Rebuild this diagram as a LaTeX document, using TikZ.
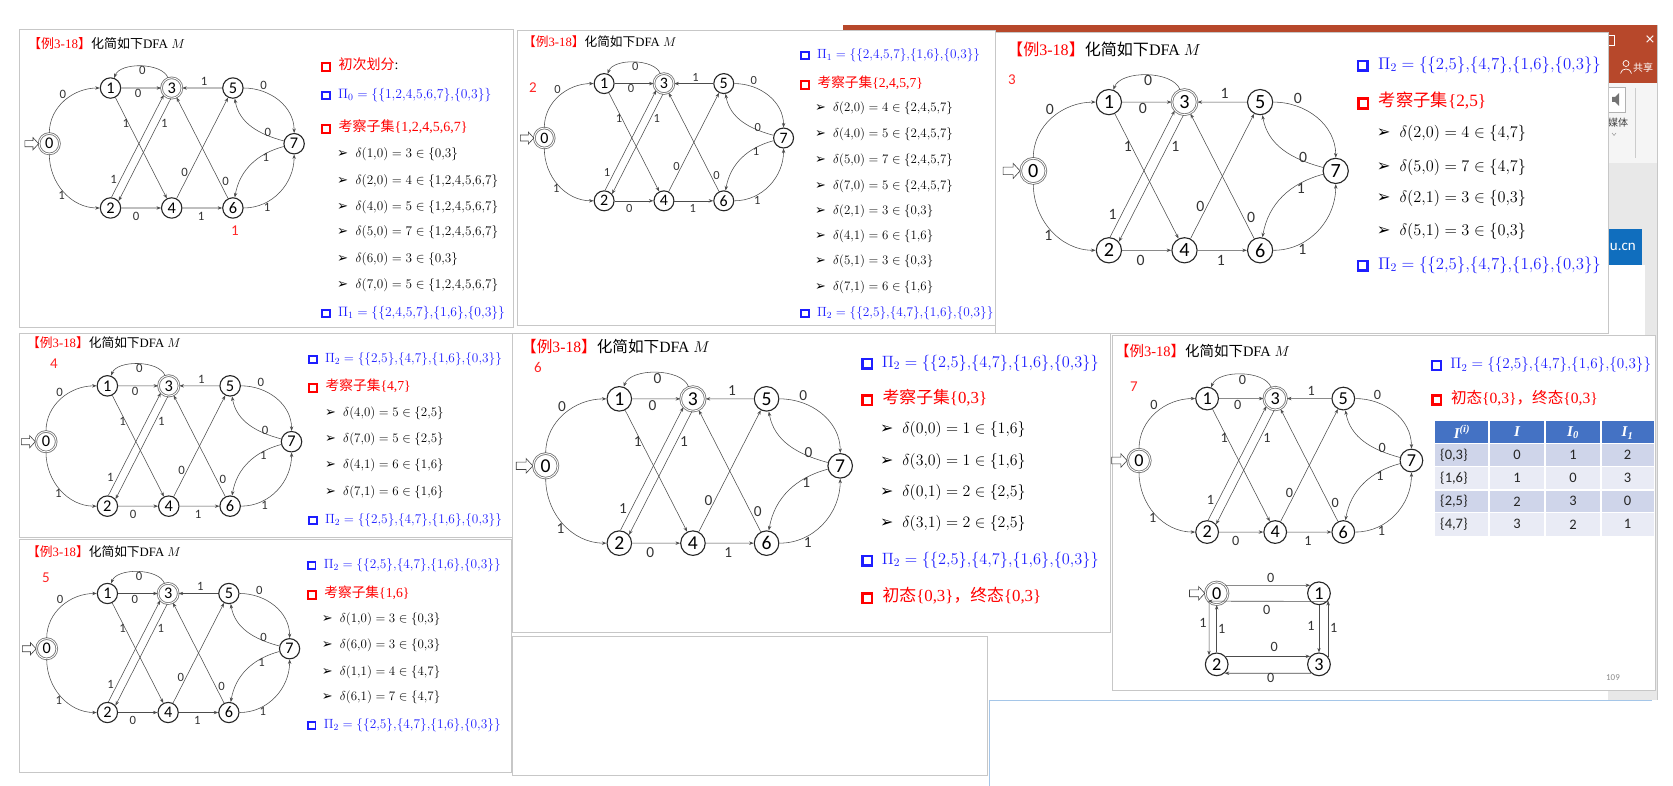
\documentclass[tikz,border=0pt]{standalone}
\usepackage{fix-cm}
\usepackage{fontspec}
\usepackage{graphicx}
\setmainfont{Liberation Serif}
\newfontfamily\cjk{Noto Sans CJK SC}
\newfontfamily\calib{Carlito}
\newfontfamily\symf{DejaVu Sans}
\usetikzlibrary{arrows.meta}

\definecolor{rd}{RGB}{255,0,0}
\definecolor{bl}{RGB}{30,30,255}
\definecolor{hdr}{RGB}{68,114,196}
\definecolor{rowa}{RGB}{207,213,234}
\definecolor{rowb}{RGB}{233,235,245}
\definecolor{ppt}{RGB}{183,72,43}
\definecolor{msblue}{RGB}{16,110,190}
\definecolor{lnblue}{RGB}{165,198,232}

\AtBeginDocument{\mathcode`\,="013B }

\newcommand\sqb[1]{{\color{#1}\setlength\fboxsep{0pt}\setlength\fboxrule{0.15em}\fbox{\rule{0pt}{0.42em}\hspace{0.42em}}}\hspace{0.55em}}
\newcommand\bularr{\scalebox{1.0}{\symf ➢}\hspace{0.55em}}
\newcommand\dline[4]{\bularr$\delta(#1,#2) = #3 \in \{#4\}$}
\newcommand\piline[2]{\sqb{bl}\textcolor{bl}{$\Pi_{#1} = \{#2\}$}}
\newcommand\kcset[1]{\sqb{rd}\textcolor{rd}{{\cjk 考察子集}\{#1\}}}
\newcommand\pitwo{\{2,5\},\{4,7\},\{1,6\},\{0,3\}}
\newcommand\initfin{\sqb{rd}\textcolor{rd}{{\cjk 初态}\{0,3\}{\cjk ，终态}\{0,3\}}}
\newcommand\ttltext{{\color{rd}{\cjk 【例}3-18{\cjk 】}}{\cjk 化简如下}DFA $M$}

\tikzset{
  st/.style={circle, draw=black!85, line width=1.1pt, minimum size=20pt, inner sep=0pt,
    font=\calib\fontsize{16}{16}\selectfont},
  fst/.style={st, draw=black!55, double=white, double distance=0.9pt, line width=0.8pt},
  ed/.style={draw=black!70, line width=0.55pt, -{Stealth[length=4.5pt,width=3.4pt]}},
  lbl/.style={inner sep=0pt, text=black!80, font=\calib\fontsize{12.5}{12.5}\selectfont},
  startarr/.style={draw=black!75, line width=0.6pt, fill=white},
  pnl/.style={draw=black!22, fill=white, line width=0.8pt},
  ttl/.style={anchor=west, inner sep=0pt, font=\fontsize{\fpeval{13*#1}}{\fpeval{15*#1}}\selectfont},
  sqln/.style={anchor=west, inner sep=0pt, font=\fontsize{\fpeval{14*#1}}{\fpeval{16*#1}}\selectfont},
  piln/.style={anchor=west, inner sep=0pt, font=\fontsize{\fpeval{13.6*#1}}{\fpeval{16*#1}}\selectfont},
  dln/.style={anchor=west, inner sep=0pt, font=\fontsize{\fpeval{13.2*#1}}{\fpeval{15*#1}}\selectfont},
  pno/.style={inner sep=0pt, text=rd!85, font=\calib\fontsize{15}{15}\selectfont},
  hd/.style={inner sep=0pt, text=white, font=\bfseries\itshape\fontsize{15}{15}\selectfont},
  tb/.style={inner sep=0pt, text=black!85, font=\calib\fontsize{14.5}{14.5}\selectfont},
}

% the DFA M, local units: 60pt between columns, y up
\newcommand\dfagraph[1]{%
  \node[fst] (#1q0) at (0,4.2) {0};
  \node[st] (#1q1) at (60,58.8) {1};
  \node[fst] (#1q3) at (120,58.8) {3};
  \node[st] (#1q5) at (180,58.8) {5};
  \node[st] (#1q7) at (240,4.2) {7};
  \node[st] (#1q2) at (60,-58.8) {2};
  \node[st] (#1q4) at (120,-58.8) {4};
  \node[st] (#1q6) at (180,-58.8) {6};
  \draw[startarr] (-24,7.2) -- (-16,7.2) -- (-16,10.2) -- (-10.5,4.2) -- (-16,-1.8)
    -- (-16,1.2) -- (-24,1.2) -- cycle;
  \draw[ed] (#1q0) to[out=90,in=180] (#1q1);
  \draw[ed] (#1q0) to[out=-90,in=180] (#1q2);
  \draw[ed] (#1q1) -- (#1q3);
  \draw[ed] (#1q3) to[out=110,in=70,looseness=0.8] (#1q1);
  \draw[ed] (#1q1) -- (#1q4);
  \draw[ed] (#1q2.85) -- (#1q3.221);
  \draw[ed] (#1q3.265) -- (#1q2.41);
  \draw[ed] (#1q2) -- (#1q4);
  \draw[ed] (#1q4) -- (#1q5);
  \draw[ed] (#1q4) -- (#1q6);
  \draw[ed] (#1q5) -- (#1q3);
  \draw[ed] (#1q6) -- (#1q3);
  \draw[ed] (#1q5) to[out=0,in=90] (#1q7);
  \draw[ed] (#1q6) to[out=0,in=-90] (#1q7);
  \draw[ed] (#1q7) to[out=165,in=-80] (#1q5);
  \draw[ed] (#1q7) to[out=195,in=80] (#1q6);
  \foreach \lx/\ly/\lt/\ln in {13.2/52.8/0/01, 12/-46.8/1/02, 91.2/75.6/0/31, 87/53.4/0/13,
      75/24/1/14, 112.8/24/1/32, 63/-30.6/1/23, 85.2/-66.6/0/24, 148.8/-66.6/1/46,
      151.8/65.4/1/53, 132.6/-24/0/45, 172.8/-33/0/63, 210/61.8/0/57, 214.2/15/0/75,
      212.4/-9.6/1/76, 213.6/-58.2/1/67}
    \node[lbl] (#1l\ln) at (\lx,\ly) {\lt};
}

\begin{document}
\begin{tikzpicture}[x=1pt, y=-1pt]
\useasboundingbox (0,0) rectangle (1673,786);
\fill[white] (0,0) rectangle (1673,786);

% window behind the slides
\fill[ppt] (843,25) rectangle (1657,83);
\draw[white, line width=0.7pt] (1604,35) rectangle (1614,45);
\node[text=white, font=\symf\fontsize{13}{13}\selectfont] (wclose) at (1650,40) {×};
\draw[white, line width=0.7pt] (1626,63.5) circle (3);
\draw[white, line width=0.7pt] (1620.5,73.5) .. controls (1621,67.5) and (1631,67.5) .. (1631.5,73.5);
\node[anchor=west, inner sep=0pt, text=white, font=\cjk\fontsize{10}{10}\selectfont] (share) at (1633,68) {共享};
\fill[black!4] (1608,83) rectangle (1657,163);
\draw[black!20] (1635,88) -- (1635,158);
\draw[black!30, fill=white] (1605,87) rectangle (1625,112);
\fill[black!55] (1612,97) -- (1615,97) -- (1619,93) -- (1619,106) -- (1615,102) -- (1612,102) -- cycle;
\node[inner sep=0pt, text=black!75, font=\cjk\fontsize{10}{10}\selectfont] (media) at (1618,123) {媒体};
\draw[black!50] (1612,133) -- (1614,135.5) -- (1616,133);
\fill[black!9] (1608,163) rectangle (1657,700);
\fill[msblue] (1608,229) rectangle (1642,265);
\node[anchor=east, inner sep=0pt, text=white, font=\calib\fontsize{15}{15}\selectfont] (url) at (1636,247) {u.cn};
\fill[white] (1608,265) rectangle (1645,340);
\draw[black!22] (1657,25) -- (1657,700);
\draw[lnblue, line width=1pt] (989,700) -- (1652,700);
\draw[lnblue, line width=1pt] (989,700) -- (989,786);
\draw[pnl] (512,636) rectangle (987,775);

% slides
\draw[pnl] (19,29) rectangle (513,327);
\draw[pnl] (517,30) rectangle (995,325);
\draw[pnl] (995,32) rectangle (1608,333);
\draw[pnl] (19,333) rectangle (512,537);
\draw[pnl] (19,539) rectangle (511,772);
\draw[pnl] (512,333) rectangle (1110,632);
\draw[pnl] (1112,335) rectangle (1655,690);

% slide 1
\begin{scope}[shift={(49.3,148)}, x=1pt, y=1pt, scale=1.02, transform shape]
  \dfagraph{a}
\end{scope}
\node[ttl=1] (ta) at (28,44) {\ttltext};
\node[pno] (na) at (235,231) {1};
\node[sqln=1] (a1) at (320.7,65) {\sqb{rd}\textcolor{rd}{\cjk 初次划分}:};
\node[piln=1] (a2) at (320.7,95) {\piline{0}{\{1,2,4,5,6,7\},\{0,3\}}};
\node[sqln=1] (a3) at (320.7,127) {\kcset{1,2,4,5,6,7}};
\node[dln=1] (a4) at (337,154) {\dline{1}{0}{3}{0,3}};
\node[dln=1] (a5) at (337,181) {\dline{2}{0}{4}{1,2,4,5,6,7}};
\node[dln=1] (a6) at (337,207) {\dline{4}{0}{5}{1,2,4,5,6,7}};
\node[dln=1] (a7) at (337,232) {\dline{5}{0}{7}{1,2,4,5,6,7}};
\node[dln=1] (a8) at (337,259) {\dline{6}{0}{3}{0,3}};
\node[dln=1] (a9) at (337,285) {\dline{7}{0}{5}{1,2,4,5,6,7}};
\node[piln=1] (a10) at (320.7,313) {\piline{1}{\{2,4,5,7\},\{1,6\},\{0,3\}}};

% slide 2
\begin{scope}[shift={(544.3,142.2)}, x=1pt, y=1pt, scale=0.997, transform shape]
  \dfagraph{b}
\end{scope}
\node[ttl=0.977] (tb) at (523,42) {\ttltext};
\node[pno] (nb) at (533,88) {2};
\node[piln=0.977] (b1) at (800,55) {\piline{1}{\{2,4,5,7\},\{1,6\},\{0,3\}}};
\node[sqln=0.977] (b2) at (800,83) {\kcset{2,4,5,7}};
\node[dln=0.977] (b3) at (815,108) {\dline{2}{0}{4}{2,4,5,7}};
\node[dln=0.977] (b4) at (815,134) {\dline{4}{0}{5}{2,4,5,7}};
\node[dln=0.977] (b5) at (815,160) {\dline{5}{0}{7}{2,4,5,7}};
\node[dln=0.977] (b6) at (815,186) {\dline{7}{0}{5}{2,4,5,7}};
\node[dln=0.977] (b7) at (815,211) {\dline{2}{1}{3}{0,3}};
\node[dln=0.977] (b8) at (815,236) {\dline{4}{1}{6}{1,6}};
\node[dln=0.977] (b9) at (815,261) {\dline{5}{1}{3}{0,3}};
\node[dln=0.977] (b10) at (815,287) {\dline{7}{1}{6}{1,6}};
\node[piln=0.977] (b11) at (800,313) {\piline{2}{\pitwo}};

% slide 3
\begin{scope}[shift={(1033.3,176.2)}, x=1pt, y=1pt, scale=1.26, transform shape]
  \dfagraph{c}
\end{scope}
\node[ttl=1.235] (tc) at (1007,49) {\ttltext};
\node[pno] (nc) at (1012,80) {3};
\node[piln=1.235] (c1) at (1356.7,65) {\piline{2}{\pitwo}};
\node[sqln=1.235] (c2) at (1356.7,101) {\kcset{2,5}};
\node[dln=1.235] (c3) at (1376.7,133) {\dline{2}{0}{4}{4,7}};
\node[dln=1.235] (c4) at (1376.7,167) {\dline{5}{0}{7}{4,7}};
\node[dln=1.235] (c5) at (1376.7,198) {\dline{2}{1}{3}{0,3}};
\node[dln=1.235] (c6) at (1376.7,231) {\dline{5}{1}{3}{0,3}};
\node[piln=1.235] (c7) at (1356.7,265) {\piline{2}{\pitwo}};

% slide 4
\begin{scope}[shift={(46,446)}, x=1pt, y=1pt, scale=1.023, transform shape]
  \dfagraph{d}
\end{scope}
\node[ttl=0.98] (td) at (27,343) {\ttltext};
\node[pno] (nd) at (54,364) {4};
\node[piln=0.98] (d1) at (308,359) {\piline{2}{\pitwo}};
\node[sqln=0.98] (d2) at (308,386) {\kcset{4,7}};
\node[dln=0.98] (d3) at (325,413) {\dline{4}{0}{5}{2,5}};
\node[dln=0.98] (d4) at (325,439) {\dline{7}{0}{5}{2,5}};
\node[dln=0.98] (d5) at (325,465) {\dline{4}{1}{6}{1,6}};
\node[dln=0.98] (d6) at (325,492) {\dline{7}{1}{6}{1,6}};
\node[piln=0.98] (d7) at (308,520) {\piline{2}{\pitwo}};

% slide 5
\begin{scope}[shift={(46.7,653)}, x=1pt, y=1pt, scale=1.012, transform shape]
  \dfagraph{e}
\end{scope}
\node[ttl=0.98] (te) at (27,552) {\ttltext};
\node[pno] (ne) at (46,578) {5};
\node[piln=0.98] (e1) at (306.7,565) {\piline{2}{\pitwo}};
\node[sqln=0.98] (e2) at (306.7,593) {\kcset{1,6}};
\node[dln=0.98] (e3) at (321.7,619) {\dline{1}{0}{3}{0,3}};
\node[dln=0.98] (e4) at (321.7,645) {\dline{6}{0}{3}{0,3}};
\node[dln=0.98] (e5) at (321.7,672) {\dline{1}{1}{4}{4,7}};
\node[dln=0.98] (e6) at (321.7,697) {\dline{6}{1}{7}{4,7}};
\node[piln=0.98] (e7) at (306.7,725) {\piline{2}{\pitwo}};

% slide 6
\begin{scope}[shift={(545.7,471)}, x=1pt, y=1pt, scale=1.227, transform shape]
  \dfagraph{f}
\end{scope}
\node[ttl=1.203] (tf) at (521,347) {\ttltext};
\node[pno] (nf) at (538,367) {6};
\node[piln=1.203] (f1) at (861,363) {\piline{2}{\pitwo}};
\node[sqln=1.203] (f2) at (861,398) {\kcset{0,3}};
\node[dln=1.203] (f3) at (880,430) {\dline{0}{0}{1}{1,6}};
\node[dln=1.203] (f4) at (880,462) {\dline{3}{0}{1}{1,6}};
\node[dln=1.203] (f5) at (880,493) {\dline{0}{1}{2}{2,5}};
\node[dln=1.203] (f6) at (880,524) {\dline{3}{1}{2}{2,5}};
\node[piln=1.203] (f7) at (861,560) {\piline{2}{\pitwo}};
\node[sqln=1.203] (f8) at (861,596) {\initfin};

% slide 7
\begin{scope}[shift={(1139,465.3)}, x=1pt, y=1pt, scale=1.135, transform shape]
  \dfagraph{g}
\end{scope}
\node[ttl=1.113] (tg) at (1115,351) {\ttltext};
\node[pno] (ng) at (1134,387) {7};
\node[piln=1.113] (g1) at (1431,365) {\piline{2}{\pitwo}};
\node[sqln=1.113] (g2) at (1431,398) {\initfin};

% table of the classes
\fill[hdr] (1435,420.7) rectangle (1654,443.3);
\fill[rowa] (1435,443.3) rectangle (1654,466.7);
\fill[rowb] (1435,466.7) rectangle (1654,490);
\fill[rowa] (1435,490) rectangle (1654,512.7);
\fill[rowb] (1435,512.7) rectangle (1654,536);
\foreach \x in {1489,1545,1601} \draw[white, line width=1.2pt] (\x,420.7) -- (\x,536);
\foreach \y in {443.3,466.7,490,512.7} \draw[white, line width=1.5pt] (1435,\y) -- (1654,\y);
\node[hd] (h0) at (1462,432) {I\textsuperscript{(i)}};
\node[hd] (h1) at (1517,432) {I};
\node[hd] (h2) at (1573,433) {I\textsubscript{0}};
\node[hd] (h3) at (1627.5,433) {I\textsubscript{1}};
\foreach \y/\s/\a/\b/\c [count=\r] in {455/{0,3}/0/1/2, 478.3/{1,6}/1/0/3, 501.3/{2,5}/2/3/0, 524.3/{4,7}/3/2/1} {
  \node[tb, anchor=west] (r\r s) at (1440,\y) {\{\s\}};
  \node[tb] (r\r a) at (1517,\y) {\a};
  \node[tb] (r\r b) at (1573,\y) {\b};
  \node[tb] (r\r c) at (1627.5,\y) {\c};
}

% minimal DFA
\begin{scope}[shift={(1216.7,593.3)}, x=1pt, y=1pt, scale=1.135, transform shape]
  \node[fst] (m0) at (0,0) {0};
  \node[st] (m1) at (90.1,0) {1};
  \node[st] (m2) at (0,-62.6) {2};
  \node[st] (m3) at (90.1,-62.6) {3};
  \draw[startarr] (-24,3) -- (-16,3) -- (-16,6) -- (-10.5,0) -- (-16,-6) -- (-16,-3)
    -- (-24,-3) -- cycle;
  \draw[ed] (m0.42) -- (m1.138);
  \draw[ed] (m1.318) -- (m0.222);
  \draw[ed] (m0.230) -- (m2.130);
  \draw[ed] (m2.north) -- (m0.south);
  \draw[ed] (m1.south) -- (m3.north);
  \draw[ed] (m3.40) -- (m1.320);
  \draw[ed] (m2.42) -- (m3.138);
  \draw[ed] (m3.228) -- (m2.312);
  \foreach \lx/\ly/\lt/\ln in {47.6/13.5/0/01, 44.1/-14.7/0/10, -12.1/-26.2/1/02,
      4.4/-31.5/1/20, 83.1/-28.8/1/13, 103.1/-30.3/1/31, 50.7/-47.6/0/23, 47.6/-74.9/0/32}
    \node[lbl] (ml\ln) at (\lx,\ly) {\lt};
\end{scope}
\node[inner sep=0pt, text=black!45, font=\calib\fontsize{9}{9}\selectfont] (pg) at (1613,678) {109};
\end{tikzpicture}
\end{document}
